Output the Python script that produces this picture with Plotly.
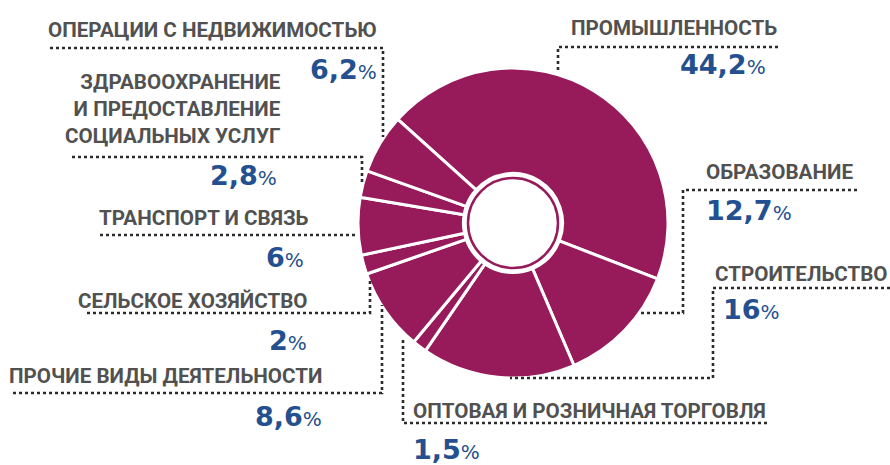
import plotly.graph_objects as go

# ---- data ----
categories = [
    "ПРОМЫШЛЕННОСТЬ",
    "ОБРАЗОВАНИЕ",
    "СТРОИТЕЛЬСТВО",
    "ОПТОВАЯ И РОЗНИЧНАЯ ТОРГОВЛЯ",
    "ПРОЧИЕ ВИДЫ ДЕЯТЕЛЬНОСТИ",
    "СЕЛЬСКОЕ ХОЗЯЙСТВО",
    "ТРАНСПОРТ И СВЯЗЬ",
    "ЗДРАВООХРАНЕНИЕ\nИ ПРЕДОСТАВЛЕНИЕ\nСОЦИАЛЬНЫХ УСЛУГ",
    "ОПЕРАЦИИ С НЕДВИЖИМОСТЬЮ",
]
values = [44.2, 12.7, 16, 1.5, 8.6, 2, 6, 2.8, 6.2]

# ---- layout (pixel positions of labels / leader lines) ----
W, H = 890, 465
MAGENTA = "#971a5b"
BLUE = "#24508f"
GRAY = "#515151"
LINE = "#2b2b2b"

# label anchor, label x, label block center y, pct anchor, pct x, pct center y
label_layout = [
    ("right", 778, 28, "right", 767, 64),
    ("left", 705, 172, "left", 705, 210),
    ("right", 889, 274, "left", 722, 309),
    ("left", 412, 411, "left", 412, 449),
    ("right", 323, 376, "right", 323, 416),
    ("right", 308, 301, "right", 308, 340),
    ("right", 310, 218, "right", 305, 257),
    ("right", 282, 109, "right", 278, 175),
    ("right", 378, 30, "right", 378, 69),
]
leaders = [
    [(778, 47), (558, 47), (558, 73)],
    [(857, 190), (683, 190), (683, 313), (640, 313)],
    [(890, 288), (713, 288), (713, 378), (510, 378)],
    [(767, 423), (403, 423), (403, 337)],
    [(13, 393), (382, 393), (382, 305)],
    [(87, 313), (370, 313), (370, 278)],
    [(100, 235), (357, 235)],
    [(72, 157), (362, 157), (362, 185)],
    [(50, 48), (383, 48), (383, 137)],
]
CX, CY, R = 513, 223, 155
RING_R = 45


def px(x):
    return x / W


def py(y):
    return 1 - y / H


fig = go.Figure(
    go.Pie(
        labels=[c.replace("\n", " ") for c in categories],
        values=values,
        sort=False,
        direction="clockwise",
        rotation=-48,
        hole=0.32,
        textinfo="none",
        marker=dict(colors=[MAGENTA] * len(values), line=dict(color="white", width=3)),
        domain=dict(x=[px(CX - R), px(CX + R)], y=[py(CY + R), py(CY - R)]),
        showlegend=False,
    )
)

LABEL_FONT = dict(family="Roboto, sans-serif", size=20.6, color=GRAY)
PCT_FONT = dict(family="DejaVu Sans, Verdana, sans-serif", size=27, color=BLUE)

annotations = []
for cat, val, (anc, lx, ly, panc, pxx, pyy) in zip(categories, values, label_layout):
    text = "<br>".join("<b>" + line + "</b>" for line in cat.split("\n"))
    annotations.append(dict(
        x=px(lx), y=py(ly), xref="paper", yref="paper",
        text=text, showarrow=False, align=anc, borderpad=0,
        xanchor=anc, yanchor="middle", font=LABEL_FONT,
    ))
    pct = f"{val:g}".replace(".", ",")
    annotations.append(dict(
        x=px(pxx), y=py(pyy), xref="paper", yref="paper",
        text="<b>" + pct + "</b><span style='font-size:20px;font-weight:normal'>%</span>",
        showarrow=False, xanchor=panc, yanchor="middle", font=PCT_FONT, borderpad=0,
    ))

shapes = []
for pts in leaders:
    path = "M " + " L ".join(f"{px(x):.5f},{py(y):.5f}" for x, y in pts)
    shapes.append(dict(type="path", path=path, xref="paper", yref="paper",
                       line=dict(color=LINE, width=2.6, dash="dot")))
shapes.append(dict(type="circle", xref="paper", yref="paper",
                   x0=px(CX - RING_R), x1=px(CX + RING_R),
                   y0=py(CY + RING_R), y1=py(CY - RING_R),
                   line=dict(color=MAGENTA, width=2.5)))

fig.update_layout(
    width=W, height=H,
    margin=dict(l=0, r=0, t=0, b=0),
    paper_bgcolor="white", plot_bgcolor="white",
    annotations=annotations, shapes=shapes,
)

fig.write_html("out.html", config={"displayModeBar": False},
               post_script="document.body.style.margin='0';")
